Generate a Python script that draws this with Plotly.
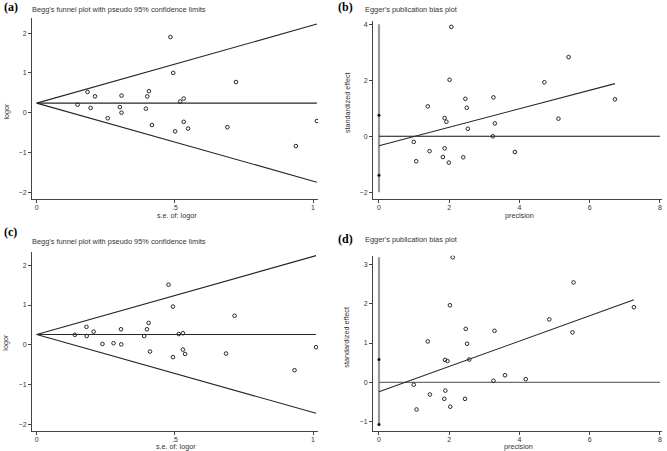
import plotly.graph_objects as go

# ---------------- data ----------------
# (a) Begg's funnel plot
se_a = [0.148, 0.184, 0.195, 0.211, 0.257, 0.301, 0.307, 0.307, 0.395, 0.400, 0.406, 0.417,
        0.484, 0.494, 0.501, 0.519, 0.532, 0.532, 0.548, 0.690, 0.721, 0.938, 1.014]
logor_a = [0.20, 0.52, 0.12, 0.41, -0.14, 0.14, 0.43, 0.00, 0.10, 0.41, 0.54, -0.31,
           1.90, 1.00, -0.47, 0.28, 0.355, -0.23, -0.40, -0.365, 0.77, -0.84, -0.21]
pooled_a = 0.24

# (b) Egger's plot
prec_b = [2.06, 2.01, 2.46, 1.39, 2.50, 3.26, 1.87, 1.92, 2.53, 3.30, 3.24, 0.99,
          1.44, 1.87, 1.82, 1.06, 1.99, 2.40, 3.87, 5.40, 4.71, 6.72, 5.11]
eff_b = [3.91, 2.02, 1.34, 1.07, 1.02, 1.39, 0.65, 0.52, 0.27, 0.46, 0.00, -0.20,
         -0.53, -0.43, -0.74, -0.89, -0.94, -0.75, -0.56, 2.83, 1.93, 1.32, 0.63]
intercept_b = -0.335
slope_b = 0.33
ci_b = [0.75, -1.39]
vline_b = [-2.0, 4.0]

# (c) Begg's funnel plot
se_c = [0.138, 0.180, 0.181, 0.206, 0.238, 0.278, 0.305, 0.306, 0.389, 0.399, 0.405, 0.410,
        0.477, 0.493, 0.493, 0.514, 0.529, 0.529, 0.537, 0.685, 0.716, 0.933, 1.011]
logor_c = [0.25, 0.45, 0.22, 0.33, 0.02, 0.04, 0.39, 0.01, 0.22, 0.39, 0.55, -0.17,
           1.51, 0.96, -0.31, 0.27, 0.29, -0.12, -0.23, -0.22, 0.73, -0.64, -0.06]
pooled_c = 0.26

# (d) Egger's plot
prec_d = [2.10, 2.02, 2.47, 3.29, 1.39, 2.51, 1.88, 1.95, 2.57, 3.59, 3.26, 0.99,
          1.89, 1.45, 1.86, 2.45, 1.07, 2.03, 5.54, 4.85, 5.51, 7.26, 4.18]
eff_d = [3.18, 1.96, 1.36, 1.31, 1.04, 0.98, 0.57, 0.54, 0.58, 0.18, 0.04, -0.06,
         -0.21, -0.31, -0.42, -0.42, -0.69, -0.62, 2.54, 1.60, 1.27, 1.91, 0.08]
intercept_d = -0.24
slope_d = 0.322
ci_d = [0.58, -1.07]
vline_d = [-1.07, 3.18]

funnel_xticks = [0, 0.5, 1]
funnel_xtext = ["0", ".5", "1"]
funnel_yticks = [-2, -1, 0, 1, 2]
egger_xticks = [0, 2, 4, 6, 8]
egger_yticks_b = [-2, 0, 2, 4]
egger_yticks_d = [-1, 0, 1, 2, 3]

W, H = 667, 451
FONT = "Liberation Sans"
DARK = "#262626"

def px(x):
    return x / W

def py(y):
    return 1 - y / H

fig = go.Figure()

marker = dict(symbol="circle-open", size=3.6, color=DARK, line=dict(width=1, color=DARK))

def funnel(se, lo, pooled, xa, ya):
    smax = max(se)
    for sgn in (1, -1, 0):
        fig.add_trace(go.Scatter(x=[0, smax], y=[pooled, pooled + sgn * 1.96 * smax], mode="lines",
                                 line=dict(color=DARK, width=1.1), xaxis=xa, yaxis=ya, hoverinfo="skip"))
    fig.add_trace(go.Scatter(x=se, y=lo, mode="markers", marker=marker, xaxis=xa, yaxis=ya))

def egger(prec, eff, b0, b1, ci, vl, xa, ya, zcol):
    fig.add_trace(go.Scatter(x=[0, 0], y=vl, mode="lines", line=dict(color="#9a9a9a", width=2.2),
                             xaxis=xa, yaxis=ya, hoverinfo="skip"))
    fig.add_trace(go.Scatter(x=[0, 8], y=[0, 0], mode="lines", line=dict(color=zcol, width=1.1),
                             xaxis=xa, yaxis=ya, hoverinfo="skip"))
    pmax = max(prec)
    fig.add_trace(go.Scatter(x=[0, pmax], y=[b0, b0 + b1 * pmax], mode="lines",
                             line=dict(color=DARK, width=1.1), xaxis=xa, yaxis=ya, hoverinfo="skip"))
    fig.add_trace(go.Scatter(x=prec, y=eff, mode="markers", marker=marker, xaxis=xa, yaxis=ya))
    fig.add_trace(go.Scatter(x=[0, 0], y=ci, mode="markers",
                             marker=dict(symbol="circle", size=3, color="#111"),
                             xaxis=xa, yaxis=ya))

funnel(se_a, logor_a, pooled_a, "x", "y")
egger(prec_b, eff_b, intercept_b, slope_b, ci_b, vline_b, "x2", "y2", "#111")
funnel(se_c, logor_c, pooled_c, "x3", "y3")
egger(prec_d, eff_d, intercept_d, slope_d, ci_d, vline_d, "x4", "y4", "#6e6e6e")

axis_common = dict(showline=True, linecolor="#444", linewidth=1, ticks="outside", ticklen=3,
                   tickwidth=1, tickcolor="#444", showgrid=False, zeroline=False,
                   ticklabeloverflow="allow",
                   tickfont=dict(family=FONT, size=7, color="#333"), fixedrange=True)
xcommon = dict(axis_common, ticklabelstandoff=-1)

fig.update_layout(
    width=W, height=H, autosize=False, showlegend=False,
    margin=dict(l=0, r=0, t=0, b=0),
    paper_bgcolor="white", plot_bgcolor="white",
    xaxis=dict(domain=[px(32), px(318)], range=[-0.017, 1.018], anchor="y",
               tickvals=funnel_xticks, ticktext=funnel_xtext, **xcommon),
    yaxis=dict(domain=[py(199), py(18)], range=[-2.17, 2.38], anchor="x",
               tickvals=funnel_yticks, **axis_common),
    xaxis2=dict(domain=[px(373), px(662)], range=[-0.17, 8.06], anchor="y2",
                tickvals=egger_xticks, **xcommon),
    yaxis2=dict(domain=[py(199), py(20.7)], range=[-2.24, 4.13], anchor="x2",
                tickvals=egger_yticks_b, **axis_common),
    xaxis3=dict(domain=[px(32), px(318)], range=[-0.017, 1.018], anchor="y3",
                tickvals=funnel_xticks, ticktext=funnel_xtext, **xcommon),
    yaxis3=dict(domain=[py(430.7), py(251.7)], range=[-2.16, 2.34], anchor="x3",
                tickvals=funnel_yticks, **axis_common),
    xaxis4=dict(domain=[px(373), px(662)], range=[-0.17, 8.06], anchor="y4",
                tickvals=egger_xticks, **xcommon),
    yaxis4=dict(domain=[py(430.7), py(255.7)], range=[-1.23, 3.22], anchor="x4",
                tickmode="array", tickvals=egger_yticks_d, **axis_common),
)

def ann(text, x, y, size=7.4, xanchor="left", angle=0, bold=False, serif=False, color="#333"):
    fam = "Liberation Serif" if serif else FONT
    t = f"<b>{text}</b>" if bold else text
    fig.add_annotation(text=t, x=px(x), y=py(y), xref="paper", yref="paper", showarrow=False,
                       xanchor=xanchor, yanchor="middle", textangle=angle,
                       font=dict(family=fam, size=size, color=color))

# panel labels and titles
ann("(a)", 2, 7, size=12, bold=True, serif=True, color="#000")
ann("Begg's funnel plot with pseudo 95% confidence limits", 29.5, 9.3)
ann("(b)", 336, 7, size=12, bold=True, serif=True, color="#000")
ann("Egger's publication bias plot", 363.5, 9.3)
ann("(c)", 2, 232, size=12, bold=True, serif=True, color="#000")
ann("Begg's funnel plot with pseudo 95% confidence limits", 29.5, 241)
ann("(d)", 336, 239, size=12, bold=True, serif=True, color="#000")
ann("Egger's publication bias plot", 363.5, 240)

# axis titles
ann("logor", 6, 110.5, size=7.2, xanchor="center", angle=-90)
ann("s.e. of: logor", 177, 215, size=7.2, xanchor="center")
ann("standardized effect", 347, 103, size=7.2, xanchor="center", angle=-90)
ann("precision", 519.5, 215, size=7.2, xanchor="center")
ann("logor", 6, 341.7, size=7.2, xanchor="center", angle=-90)
ann("s.e. of: logor", 176, 446.5, size=7.2, xanchor="center")
ann("standardized effect", 347, 337.7, size=7.2, xanchor="center", angle=-90)
ann("precision", 518.5, 446.5, size=7.2, xanchor="center")

fig.write_html("out.html")
